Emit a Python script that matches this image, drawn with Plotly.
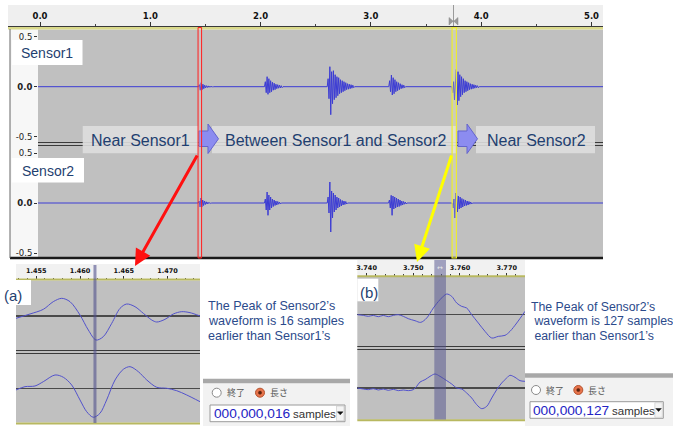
import plotly.graph_objects as go

W, H = 673, 426

# ---------------- data ----------------
# main view (seconds / amplitude)
main_step = 0.008
s1_onsets = [1.445, 2.043, 2.612, 3.170, 3.742]
s1_bursts = [
    [0.02, -0.035, 0.04, -0.03, 0.025, -0.02, 0.015, -0.012, 0.01, -0.008, 0.008, -0.006, 0.006, -0.005, 0.005, -0.004],
    [0.05, -0.06, 0.10, -0.076, 0.08, -0.06, 0.06, -0.05, 0.045, -0.035, 0.035, -0.03, 0.025, -0.02, 0.02, -0.015, 0.015, -0.012, 0.01, -0.01],
    [0.08, -0.12, 0.20, -0.28, 0.15, -0.17, 0.16, -0.13, 0.12, -0.11, 0.10, -0.09, 0.09, -0.07, 0.07, -0.06, 0.06, -0.05, 0.05, -0.04, 0.04, -0.03, 0.03, -0.025, 0.025, -0.02, 0.02, -0.015, 0.015, -0.01],
    [0.06, -0.05, 0.117, -0.083, 0.09, -0.07, 0.07, -0.05, 0.05, -0.04, 0.04, -0.03, 0.03, -0.02, 0.02, -0.015, 0.015, -0.01],
    [-0.06, 0.05, -0.133, 0.08, 0.173, -0.183, 0.15, -0.14, 0.12, -0.10, 0.10, -0.08, 0.08, -0.06, 0.06, -0.05, 0.05, -0.04, 0.04, -0.03, 0.03, -0.025, 0.025, -0.02, 0.02, -0.015, 0.015, -0.01, 0.01, -0.01],
]
s2_onsets = [1.443, 2.043, 2.612, 3.168, 3.745]
s2_bursts = [
    [0.02, -0.04, 0.05, -0.04, 0.03, -0.025, 0.02, -0.015, 0.012, -0.01, 0.008, -0.006, 0.005, -0.005],
    [0.04, -0.07, 0.11, -0.123, 0.08, -0.07, 0.06, -0.05, 0.04, -0.035, 0.03, -0.025, 0.02, -0.02, 0.015, -0.012, 0.01, -0.01],
    [0.06, -0.10, 0.21, -0.29, 0.12, -0.15, 0.10, -0.09, 0.08, -0.07, 0.06, -0.05, 0.05, -0.04, 0.035, -0.03, 0.025, -0.02, 0.02, -0.015, 0.015, -0.01],
    [0.03, -0.05, 0.077, -0.123, 0.07, -0.06, 0.06, -0.05, 0.05, -0.04, 0.04, -0.035, 0.03, -0.025, 0.02, -0.02, 0.015, -0.012, 0.01, -0.01],
    [-0.05, 0.04, -0.15, 0.10, 0.08, -0.09, 0.07, -0.06, 0.06, -0.05, 0.045, -0.04, 0.035, -0.03, 0.03, -0.025, 0.02, -0.02, 0.015, -0.012, 0.01, -0.01],
]
amp_ticks = [0.5, 0.0, -0.5]
amp_ticktext = ["0.5", "<b>0.0</b>", "-0.5"]

red_sel = [1.433, 1.465]
yellow_sel = [3.736, 3.775]

# zoom (a): around 1.46 s
a_t_top = [1.45269, 1.45429, 1.45581, 1.45695, 1.45791, 1.45886, 1.46000, 1.46095, 1.46183, 1.46266, 1.46362,
           1.46457, 1.46533, 1.46628, 1.46723, 1.46819, 1.46876, 1.46970, 1.47065, 1.47161, 1.47256, 1.47370]
a_v_top = [-0.065, 0.056, 0.185, 0.398, 0.491, 0.398, 0.028, -0.389, -0.667, -0.574, -0.204,
           0.213, 0.333, 0.259, 0.074, -0.111, -0.167, -0.093, 0.056, 0.120, 0.093, 0.0]
a_t_bot = [1.45269, 1.45372, 1.45486, 1.45581, 1.45715, 1.45810, 1.45905, 1.46000, 1.46076, 1.46152, 1.46228,
           1.46304, 1.46400, 1.46495, 1.46571, 1.46666, 1.46762, 1.46876, 1.46990, 1.47104, 1.47218, 1.47370]
a_v_bot = [-0.038, 0.059, 0.079, 0.206, 0.403, 0.335, 0.109, -0.332, -0.676, -0.841, -0.724,
           -0.332, 0.256, 0.571, 0.647, 0.5, 0.256, 0.041, 0.012, -0.059, -0.185, -0.382]
a_cursor = 1.46171
a_range = [1.452694, 1.473699]

# zoom (b): around 3.755 s
b_t_top = [3.73800, 3.73929, 3.74036, 3.74143, 3.74250, 3.74357, 3.74464, 3.74571, 3.74679, 3.74786,
           3.74893, 3.75036, 3.75159, 3.75287, 3.75429, 3.75572, 3.75716, 3.75823, 3.75930, 3.76037,
           3.76144, 3.76251, 3.76393, 3.76536, 3.76680, 3.76821, 3.76965, 3.77072, 3.77216, 3.77393]
b_v_top = [0, -0.019, -0.046, -0.019, -0.056, -0.019, -0.056, -0.019, 0, -0.046,
           -0.111, -0.167, -0.213, -0.093, 0.185, 0.417, 0.574, 0.509, 0.324, 0.231,
           0.185, 0, -0.231, -0.463, -0.648, -0.602, -0.574, -0.463, -0.231, 0.093]
b_t_bot = [3.73800, 3.73929, 3.74036, 3.74143, 3.74250, 3.74357, 3.74464, 3.74571, 3.74679, 3.74786,
           3.74893, 3.75000, 3.75073, 3.75144, 3.75251, 3.75358, 3.75465, 3.75572, 3.75716, 3.75823,
           3.75930, 3.76037, 3.76144, 3.76251, 3.76358, 3.76465, 3.76573, 3.76680, 3.76787, 3.76894,
           3.77001, 3.77072, 3.77179, 3.77286, 3.77393]
b_v_bot = [0, -0.029, -0.048, -0.019, -0.057, -0.029, -0.067, -0.038, -0.076, -0.057,
           -0.076, -0.048, 0.048, 0.171, 0.238, 0.333, 0.4, 0.333, 0.210, 0.114,
           0, -0.029, -0.143, -0.286, -0.476, -0.590, -0.524, -0.286, -0.048, 0.143,
           0.286, 0.362, 0.305, 0.210, 0.190]
b_band = [3.7545, 3.7570]
b_range = [3.73800, 3.77393]

track_names = ["Sensor1", "Sensor2"]
stage_labels = ["Near Sensor1", "Between Sensor1 and Sensor2", "Near Sensor2"]
a_text = ["The Peak of Sensor2\u2019s", "waveform is 16 samples", "earlier than Sensor1\u2019s"]
b_text = ["The Peak of Sensor2\u2019s", " waveform is 127 samples", " earlier than Sensor1\u2019s"]
a_samples = "000,000,016"
b_samples = "000,000,127"
radio_labels = ["終了", "長さ"]

# ---------------- helpers (layout only) ----------------
def PX(x):
    return x / W

def PY(y):
    return 1 - y / H

def tmain(px):
    return (px - 40) / 110.3

def build(onsets, bursts, t0, t1, step):
    xs, ys = [t0], [0.0]
    for on, amps in zip(onsets, bursts):
        xs.append(on - step); ys.append(0.0)
        for i, a in enumerate(amps):
            xs.append(on + i * step); ys.append(a)
        xs.append(on + len(amps) * step); ys.append(0.0)
    xs.append(t1); ys.append(0.0)
    return xs, ys

WAVE = "#3c3cd4"
ZWAVE = "#5252cc"
NAVY = "#1f3f70"
TXT = "#2b4a8b"
FONT = "Liberation Sans"
RFONT = "DejaVu Sans"

fig = go.Figure()

t_lo, t_hi = tmain(38), tmain(603)
x1, y1 = build(s1_onsets, s1_bursts, t_lo, t_hi, main_step)
x2, y2 = build(s2_onsets, s2_bursts, t_lo, t_hi, main_step)
fig.add_trace(go.Scatter(x=x1, y=y1, xaxis="x", yaxis="y", mode="lines",
                         line=dict(color=WAVE, width=1), hoverinfo="skip"))
fig.add_trace(go.Scatter(x=x2, y=y2, xaxis="x2", yaxis="y2", mode="lines",
                         line=dict(color=WAVE, width=1), hoverinfo="skip"))
for tx, vy, xa, ya in [(a_t_top, a_v_top, "x4", "y4"), (a_t_bot, a_v_bot, "x5", "y5"),
                       (b_t_top, b_v_top, "x6", "y6"), (b_t_bot, b_v_bot, "x7", "y7")]:
    fig.add_trace(go.Scatter(x=tx, y=vy, xaxis=xa, yaxis=ya, mode="lines",
                             line=dict(color=ZWAVE, width=1, shape="spline", smoothing=0.9),
                             hoverinfo="skip"))
# empty traces so the ruler axes get drawn
for xa, ya in [("x3", "y3"), ("x8", "y8"), ("x9", "y9")]:
    fig.add_trace(go.Scatter(x=[], y=[], xaxis=xa, yaxis=ya, mode="markers", hoverinfo="skip"))

hidden_x = dict(visible=False, fixedrange=True)
amp_axis = dict(tickvals=amp_ticks, ticktext=amp_ticktext, ticks="outside", ticklen=3,
                tickcolor="#333", showgrid=False, zeroline=False, showline=False,
                tickfont=dict(family=RFONT, size=8.5, color="#222"), fixedrange=True)
zoom_y = dict(showticklabels=False, ticks="", showgrid=False, showline=False,
              zeroline=True, zerolinecolor="#4a4a4a", zerolinewidth=1.2, fixedrange=True)

def ruler_axis(domain, rng, dtick, tick0, fmt, size, mdtick, tlen):
    return dict(domain=domain, range=rng, side="bottom", ticks="inside", ticklen=tlen,
                tickcolor="#333", dtick=dtick, tick0=tick0, tickformat=fmt,
                ticklabelposition="inside", ticklabeloverflow="allow",
                tickfont=dict(family=RFONT, size=size, color="#111", weight="bold"),
                showline=False, showgrid=False, zeroline=False, fixedrange=True,
                minor=dict(dtick=mdtick, ticks="inside", ticklen=max(1.5, tlen / 2), tickcolor="#444"))

ry = dict(visible=False, range=[0, 1], fixedrange=True)

fig.update_layout(
    width=W, height=H, autosize=False,
    margin=dict(l=0, r=0, t=0, b=0),
    paper_bgcolor="white", plot_bgcolor="rgba(0,0,0,0)",
    showlegend=False,
    xaxis=dict(domain=[PX(38), PX(603)], range=[t_lo, t_hi], anchor="y", **hidden_x),
    yaxis=dict(domain=[PY(142), PY(30)], range=[-0.553, 0.567], anchor="x", **amp_axis),
    xaxis2=dict(domain=[PX(38), PX(603)], range=[t_lo, t_hi], anchor="y2", **hidden_x),
    yaxis2=dict(domain=[PY(257), PY(146)], range=[-0.54, 0.57], anchor="x2", **amp_axis),
    xaxis3=dict(anchor="y3", **ruler_axis([PX(8), PX(603)], [tmain(8), tmain(603)], 1, 0, ".1f", 8.5, 0.5, 4)),
    yaxis3=dict(domain=[PY(26), PY(5)], anchor="x3", **ry),
    xaxis4=dict(domain=[PX(16), PX(200)], range=a_range, anchor="y4", **hidden_x),
    yaxis4=dict(domain=[PY(350), PY(281)], range=[-0.944, 0.972], anchor="x4", **zoom_y),
    xaxis5=dict(domain=[PX(16), PX(200)], range=a_range, anchor="y5", **hidden_x),
    yaxis5=dict(domain=[PY(422), PY(354)], range=[-0.98, 1.02], anchor="x5", **zoom_y),
    xaxis6=dict(domain=[PX(357.3), PX(525)], range=b_range, anchor="y6", **hidden_x),
    yaxis6=dict(domain=[PY(346), PY(278.7)], range=[-0.87, 1.0], anchor="x6", **zoom_y),
    xaxis7=dict(domain=[PX(357.3), PX(525)], range=b_range, anchor="y7", **hidden_x),
    yaxis7=dict(domain=[PY(419), PY(349.7)], range=[-0.886, 1.094], anchor="x7", **zoom_y),
    xaxis8=dict(anchor="y8", **ruler_axis([PX(16), PX(200)], a_range, 0.005, 1.455, ".3f", 6.5, 0.001, 3)),
    yaxis8=dict(domain=[PY(279), PY(264)], anchor="x8", **ry),
    xaxis9=dict(anchor="y9", **ruler_axis([PX(357.3), PX(525)], b_range, 0.01, 3.74, ".3f", 6.5, 0.002, 3)),
    yaxis9=dict(domain=[PY(275.5), PY(260)], anchor="x9", **ry),
)

shapes = []

def rect(x0, y0, x1, y1, fill, line=None, lw=0, layer="above", **kw):
    d = dict(type="rect", xref="paper", yref="paper", x0=PX(x0), x1=PX(x1), y0=PY(y1), y1=PY(y0),
             fillcolor=fill, line=dict(color=line or "rgba(0,0,0,0)", width=lw), layer=layer)
    d.update(kw)
    shapes.append(d)

def hline(x0, x1, y, color, w, layer="above"):
    shapes.append(dict(type="line", xref="paper", yref="paper", x0=PX(x0), x1=PX(x1), y0=PY(y), y1=PY(y),
                       line=dict(color=color, width=w), layer=layer))

def vline(x, y0, y1, color, w, layer="above"):
    shapes.append(dict(type="line", xref="paper", yref="paper", x0=PX(x), x1=PX(x), y0=PY(y0), y1=PY(y1),
                       line=dict(color=color, width=w), layer=layer))

def path(pts, fill, line, lw=1):
    s = "M " + " L ".join(f"{PX(x):.5f},{PY(y):.5f}" for x, y in pts) + " Z"
    shapes.append(dict(type="path", xref="paper", yref="paper", path=s, fillcolor=fill,
                       line=dict(color=line, width=lw), layer="above"))

def circle(cx, cy, r, fill, line, lw=1):
    shapes.append(dict(type="circle", xref="paper", yref="paper", x0=PX(cx - r), x1=PX(cx + r),
                       y0=PY(cy + r), y1=PY(cy - r), fillcolor=fill, line=dict(color=line, width=lw),
                       layer="above"))

# backgrounds (below traces)
rect(8, 5, 603, 26, "#efefef", layer="below")
rect(10, 29, 38, 258, "#f7f7f7", layer="below")
rect(38, 29.5, 603, 257, "#c0c0c0", layer="below")
rect(16, 264, 200, 278.5, "#f1f1f1", layer="below")
rect(16, 280.5, 200, 422.5, "#c0c0c0", layer="below")
rect(357.3, 260, 525, 275.5, "#f1f1f1", layer="below")
rect(357.3, 277, 525, 419.5, "#c0c0c0", layer="below")

# main frame lines
hline(8, 603, 26.5, "#3a3a3a", 1.2)
rect(8, 27, 603, 29.5, "#d9d98a")
hline(38, 603, 142.5, "#3a3a3a", 1)
hline(38, 603, 145.5, "#3a3a3a", 1)
rect(10, 256.8, 603, 259.2, "#1a1a1a")
vline(10, 29, 258, "#666", 1)

# track name boxes
rect(12, 40, 82.5, 65, "white")
rect(11.7, 158, 84, 182.5, "white")

# stage banner
rect(82.7, 126, 198.3, 153.3, "rgba(222,222,222,0.9)")
rect(212, 126, 456, 153.3, "rgba(222,222,222,0.9)")
rect(476, 126, 595, 153.3, "rgba(222,222,222,0.9)")
for dx in (0, 259):
    path([(199 + dx, 131), (208 + dx, 131), (208 + dx, 124), (218.5 + dx, 138.8), (208 + dx, 153.5),
          (208 + dx, 146.5), (199 + dx, 146.5)], "#8c8cf0", "#6464cc", 1)

# selections (data coordinates on the main time axis)
shapes.append(dict(type="rect", xref="x", yref="paper", x0=red_sel[0], x1=red_sel[1], y0=PY(258), y1=PY(27.5),
                   fillcolor="rgba(255,190,190,0.2)", line=dict(color="#ff2020", width=1), layer="above"))
shapes.append(dict(type="rect", xref="x", yref="paper", x0=yellow_sel[0], x1=yellow_sel[1], y0=PY(258), y1=PY(27.5),
                   fillcolor="rgba(255,255,170,0.2)", line=dict(color="#eded30", width=1.2), layer="above"))
# ruler selection marker
vline(453.5, 5, 26, "#9a9a9a", 1)
path([(449, 17.5), (449, 25), (453.2, 21.2)], "#9a9a9a", "#888", 0.5)
path([(458, 17.5), (458, 25), (453.8, 21.2)], "#9a9a9a", "#888", 0.5)

# inset frame lines
hline(16, 200, 279.5, "#b8b860", 2)
hline(16, 200, 350.5, "#3a3a3a", 1)
hline(16, 200, 353.5, "#3a3a3a", 1)
hline(16, 200, 423.5, "#b8b860", 2)
hline(357.3, 525, 276.2, "#b8b860", 2)
hline(357.3, 525, 346.5, "#3a3a3a", 1)
hline(357.3, 525, 349.5, "#3a3a3a", 1)
hline(357.3, 525, 420.2, "#b8b860", 2)

# cursor in (a), band in (b)
shapes.append(dict(type="line", xref="x4", yref="paper", x0=a_cursor, x1=a_cursor, y0=PY(423), y1=PY(265),
                   line=dict(color="rgba(80,80,140,0.6)", width=3), layer="above"))
shapes.append(dict(type="rect", xref="x6", yref="paper", x0=b_band[0], x1=b_band[1], y0=PY(419.5), y1=PY(260),
                   fillcolor="rgba(80,80,140,0.5)", line=dict(width=0), layer="above"))

# labels (a), (b)
rect(0, 280, 31, 305, "white")
rect(357.3, 278.7, 378.3, 301.3, "white")

# widgets
for (bx0, bx1, bar_y, ry_, c1, c2, tb) in [
        (203, 350, 381, 392.7, 216.7, 260, (210, 405, 345, 421.7)),
        (525, 673, 375.5, 390, 536, 578.3, (530, 401.7, 663.3, 418.3))]:
    rect(bx0, bar_y + 2.2, bx1, 426, "#f2f2f2")
    rect(bx0, bar_y - 2.2, bx1, bar_y + 2.2, "#a8a8a8")
    circle(c1, ry_, 4.5, "white", "#8a8a8a", 1)
    circle(c2, ry_, 4.5, "#e8744c", "#b4532f", 1)
    circle(c2, ry_, 1.6, "#5a2410", "#5a2410", 0.5)
    rect(tb[0], tb[1], tb[2], tb[3], "white", "#9a9a9a", 1)
    rect(tb[2] - 8.5, tb[1] + 1, tb[2] - 1, tb[3] - 1, "#f4f4f4", "#bbbbbb", 0.5)
    path([(tb[2] - 7.5, (tb[1] + tb[3]) / 2 - 1.5), (tb[2] - 2, (tb[1] + tb[3]) / 2 - 1.5),
          (tb[2] - 4.75, (tb[1] + tb[3]) / 2 + 1.5)], "#111", "#111", 0.5)

fig.update_layout(shapes=shapes)

ann = []

def text(x, y, s, size, color, family=FONT, xanchor="center", **kw):
    d = dict(x=PX(x), y=PY(y), xref="paper", yref="paper", text=s, showarrow=False,
             xanchor=xanchor, yanchor="middle", font=dict(family=family, size=size, color=color))
    d.update(kw)
    ann.append(d)

text(47.3, 53, track_names[0], 14, NAVY)
text(47.8, 171, track_names[1], 14, NAVY)
text(140.5, 140.5, stage_labels[0], 16, NAVY)
text(335.5, 140.5, stage_labels[1], 16, NAVY)
text(536, 140.5, stage_labels[2], 16, NAVY)
text(12.5, 295, "(a)", 15, NAVY)
text(368.5, 292, "(b)", 15, NAVY)

for i, s in enumerate(a_text):
    text(205.5, 305.7 + 15 * i, s, 12.6, TXT, xanchor="left")
for i, s in enumerate(b_text):
    text(528.5, 306.7 + 14.7 * i, s, 12.3, TXT, xanchor="left")

# widget texts
text(236, 392.7, radio_labels[0], 9, "#555", family="Noto Sans CJK JP")
text(279, 392.7, radio_labels[1], 9, "#555", family="Noto Sans CJK JP")
text(211.5, 413.6, a_samples, 13.7, "#2424c4", xanchor="left")
text(290.5, 414, "samples", 11.5, "#333", xanchor="left")
text(555, 390, radio_labels[0], 9, "#555", family="Noto Sans CJK JP")
text(596.5, 390, radio_labels[1], 9, "#555", family="Noto Sans CJK JP")
text(530.5, 410.3, b_samples, 13.7, "#2424c4", xanchor="left")
text(609.5, 410.7, "samples", 11.5, "#333", xanchor="left")
text(440.2, 268, "\u2194", 7, "#e8e8e8", family=RFONT)

# pointer arrows
ann.append(dict(x=PX(135), y=PY(266), xref="paper", yref="paper", ax=63, ay=-112, text="",
                showarrow=True, arrowhead=2, arrowsize=1.1, arrowwidth=3, arrowcolor="#ff1010", standoff=0))
ann.append(dict(x=PX(417), y=PY(262), xref="paper", yref="paper", ax=35, ay=-108, text="",
                showarrow=True, arrowhead=2, arrowsize=1.1, arrowwidth=3, arrowcolor="#ffff00", standoff=0))

fig.update_layout(annotations=ann)

fig.write_html("out.html", config={"displayModeBar": False, "staticPlot": True},
               post_script="document.body.style.margin='0px';")
